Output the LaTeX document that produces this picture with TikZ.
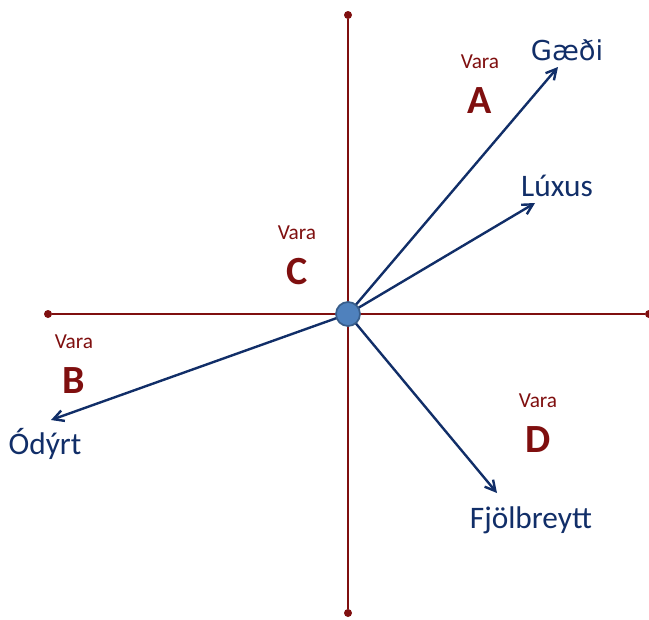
\documentclass[tikz,border=0pt]{standalone}
\usepackage{fontspec}
\setmainfont{Carlito}
\newfontfamily\dejavu{DejaVu Sans}
\usetikzlibrary{arrows.meta}
\definecolor{rot}{HTML}{7F0F0F}
\definecolor{blau}{HTML}{112E68}
\definecolor{kreis}{HTML}{4F81BD}
\definecolor{kreisr}{HTML}{385D8A}
\tikzset{
  achse/.style={rot,line width=2pt},
  endpkt/.style={circle,fill=rot,inner sep=0pt,minimum size=6pt},
  pfeil/.style={-{Straight Barb[length=2.7mm,width=2.9mm]},blau,line width=1.8pt},
  vara/.style={rot,font=\fontsize{16}{18}\selectfont},
  feld/.style={rot,font=\fontsize{30}{34}\selectfont\bfseries},
  ziel/.style={blau,font=\fontsize{23.5}{26}\selectfont},
}

\begin{document}
\begin{tikzpicture}[x=0.75pt,y=-0.75pt]
  \useasboundingbox (0,0) rectangle (649,619);
  % Achsen
  \node[endpkt] (oben) at (348,15) {};
  \node[endpkt] (unten) at (348,613) {};
  \node[endpkt] (links) at (48,314) {};
  \node[endpkt] (rechts) at (649,314) {};
  \draw[achse] (oben) -- (unten);
  \draw[achse] (links) -- (rechts);
  % Pfeilenden
  \coordinate (pg) at (558,67);
  \coordinate (pl) at (535,203);
  \coordinate (po) at (51,420);
  \coordinate (pf) at (497,493);
  \coordinate (m) at (348,314);
  \draw[pfeil] (m) -- (pg);
  \draw[pfeil] (m) -- (pl);
  \draw[pfeil] (m) -- (po);
  \draw[pfeil] (m) -- (pf);
  % Mitte
  \node[circle,fill=kreis,draw=kreisr,line width=1.3pt,minimum size=18pt,inner sep=0pt] (mitte) at (m) {};
  % Felder
  \node[vara] (va) at (480,62) {Vara};
  \node[feld] (fa) at (480,101) {A};
  \node[vara] (vc) at (297,233) {Vara};
  \node[feld] (fc) at (297,272) {C};
  \node[vara] (vb) at (74,342) {Vara};
  \node[feld] (fb) at (74,381) {B};
  \node[vara] (vd) at (538,401) {Vara};
  \node[feld] (fd) at (538,440) {D};
  % Ziele
  \node[ziel,font=\fontsize{20.5}{24}\selectfont\dejavu] (gaedi) at (567,50) {Gæði};
  \node[ziel] (luxus) at (557,186) {Lúxus};
  \node[ziel] (odyrt) at (45,444) {Ódýrt};
  \node[ziel] (fjol) at (531,520) {Fjölbreytt};
\end{tikzpicture}
\end{document}
